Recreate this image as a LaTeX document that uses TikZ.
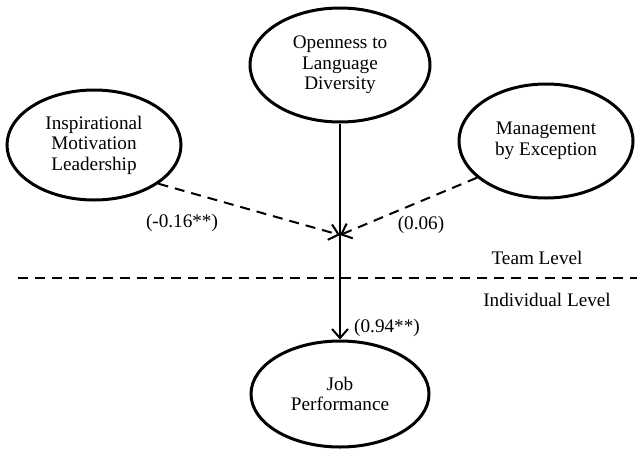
\documentclass[tikz,border=0pt]{standalone}
\usepackage{fontspec}
\setmainfont{Liberation Serif}
\usetikzlibrary{arrows.meta,shapes.geometric}

\begin{document}
\begin{tikzpicture}[x=0.5pt, y=-0.5pt, font=\fontsize{9.6}{10.3}\selectfont,
  construct/.style={draw, line width=1.5pt, ellipse, align=center, inner sep=0pt},
  effect/.style={-{Straight Barb[length=4.5pt,width=8pt]}, line width=1pt},
  moderation/.style={effect, dash pattern=on 5pt off 3.5pt}]
\useasboundingbox (0,0) rectangle (637,450);
\node[construct, minimum width=87pt, minimum height=55pt] (ldr) at (94,145) {Inspirational\\ Motivation\\ Leadership};
\node[construct, minimum width=90pt, minimum height=57pt] (old) at (340,65) {Openness to\\ Language\\ Diversity};
\node[construct, minimum width=87pt, minimum height=57pt] (mbe) at (546,141) {Management\\ by Exception};
\node[construct, minimum width=89pt, minimum height=53pt] (job) at (340,394) {Job\\ Performance};
\coordinate (meet) at (340,235);
\draw[effect] (old.south) -- (job.north);
\draw[moderation] (ldr.-31) -- (meet);
\draw[moderation] (mbe.208) -- (meet);
% level divider
\draw[line width=1pt, dash pattern=on 5pt off 3.5pt] (18,278) -- (637,278);
\node (team) at (537,258) {Team Level};
\node (indiv) at (547,300) {Individual Level};
% path coefficients
\node (cldr) at (182,223) {(-0.16**)};
\node (cmbe) at (421,225) {(0.06)};
\node (cjob) at (387,328) {(0.94**)};
\end{tikzpicture}
\end{document}
